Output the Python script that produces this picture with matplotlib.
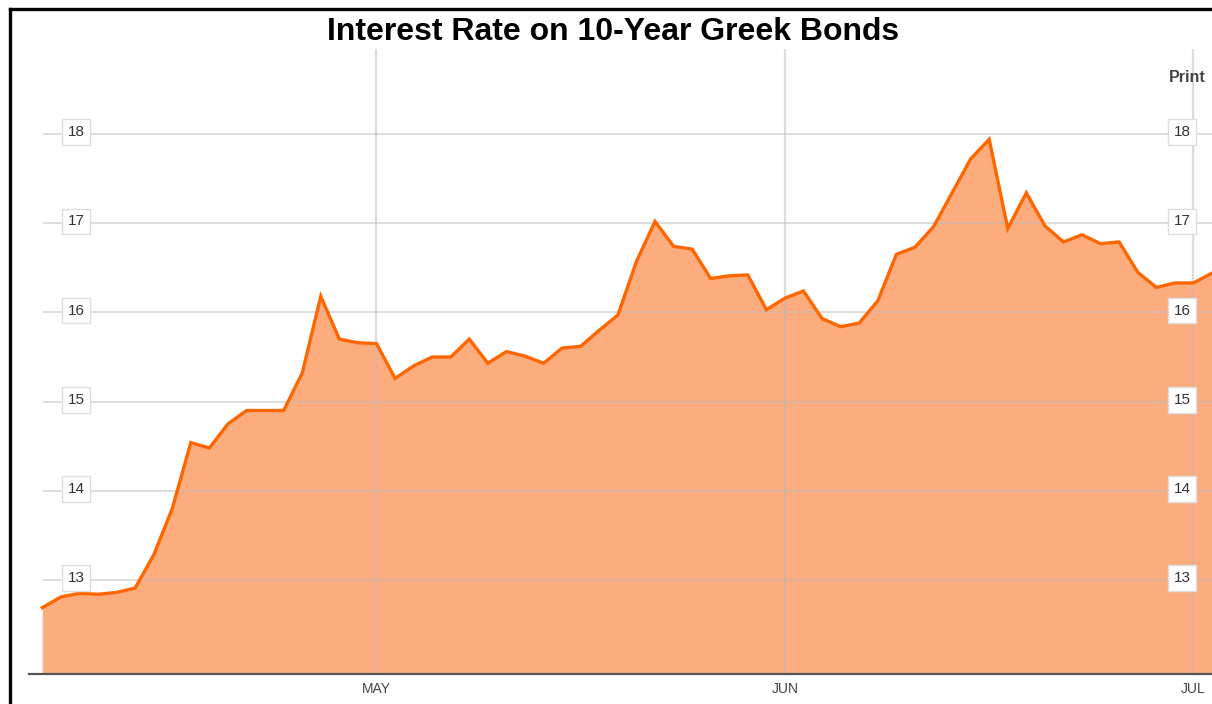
import numpy as np
import pandas as pd
import matplotlib
matplotlib.use('Agg')
import matplotlib.pyplot as plt
from matplotlib.lines import Line2D
import matplotlib.transforms as mtransforms

plt.rcParams['font.family'] = ['Liberation Sans', 'DejaVu Sans']

# daily closing yield, trading days from 6 Apr 2011
rates = [12.69, 12.81, 12.85, 12.84, 12.86, 12.91, 13.28, 13.80, 14.54, 14.48,
         14.75, 14.90, 14.90, 14.90, 15.32, 16.18, 15.70, 15.66, 15.65, 15.26,
         15.40, 15.50, 15.50, 15.70, 15.43, 15.56, 15.51, 15.43, 15.60, 15.62,
         15.80, 15.97, 16.57, 17.02, 16.74, 16.71, 16.38, 16.41, 16.42, 16.03,
         16.16, 16.24, 15.93, 15.84, 15.88, 16.13, 16.65, 16.73, 16.96, 17.34,
         17.72, 17.94, 16.94, 17.34, 16.97, 16.79, 16.87, 16.77, 16.79, 16.45,
         16.28, 16.33, 16.33, 16.44]
y_ticks = [13, 14, 15, 16, 17, 18]
title = 'Interest Rate on 10-Year Greek Bonds'

dates = pd.bdate_range('2011-04-06', periods=len(rates))
x = np.arange(len(rates))
month_pos = [i for i in range(1, len(dates)) if dates[i].month != dates[i - 1].month]
month_labels = [dates[i].strftime('%b').upper() for i in month_pos]

W, H = 1212, 704
fig = plt.figure(figsize=(W / 100, H / 100), dpi=100)
ax_l, ax_r, ax_b, ax_t = 29, 1212, 674, 49
ax = fig.add_axes([ax_l / W, 1 - ax_b / H, (ax_r - ax_l) / W, (ax_b - ax_t) / H])

ymin, ymax = 11.946, 18.953
ax.set_ylim(ymin, ymax)
ax.set_xlim(-0.716, 63.0)

ax.fill_between(x, ymin, rates, color='#FDAD7D', lw=0, zorder=1)
ax.plot(x, rates, color='#FF6600', lw=2.4, zorder=3, solid_joinstyle='miter')

grid_col = (0.73, 0.73, 0.73)
for v in y_ticks:
    ax.axhline(v, xmin=(44 - ax_l) / (ax_r - ax_l), color=grid_col, alpha=0.5, lw=1.4, zorder=2)
for p in month_pos:
    ax.axvline(p, color=grid_col, alpha=0.5, lw=1.6, zorder=2)

for s in ['top', 'left', 'right']:
    ax.spines[s].set_visible(False)
ax.spines['bottom'].set_color('#555555')
ax.spines['bottom'].set_linewidth(1.6)
ax.spines['bottom'].set_zorder(4)

ax.set_yticks([])
ax.set_xticks(month_pos)
ax.set_xticklabels(month_labels)
ax.tick_params(axis='x', length=0, pad=6, labelsize=10, labelcolor='#444444')

trans = mtransforms.blended_transform_factory(ax.transAxes, ax.transData)
box = dict(boxstyle='square,pad=0.38', fc='white', ec='#dddddd', lw=1)
for v in y_ticks:
    for xf in [(76 - ax_l) / (ax_r - ax_l), (1182 - ax_l) / (ax_r - ax_l)]:
        ax.text(xf, v + 0.02, str(v), transform=trans, ha='center', va='center',
                fontsize=11, color='#333333', bbox=box, zorder=5)

fig.text(1187 / W, 1 - 77 / H, 'Print', ha='center', va='center', fontsize=11.5,
         fontweight='bold', color='#444444')
fig.text(613 / W, 1 - 32 / H, title, ha='center', va='center', fontsize=23,
         fontweight='bold', color='black')

# black frame on the left and top
fig.add_artist(Line2D([10 / W, 10 / W], [0, 1 - 9 / H], color='black', lw=2.4,
                      transform=fig.transFigure, solid_capstyle='projecting'))
fig.add_artist(Line2D([10 / W, 1.0], [1 - 9 / H, 1 - 9 / H], color='black', lw=2.4,
                      transform=fig.transFigure, solid_capstyle='projecting'))

fig.savefig('out.png', dpi=100)
